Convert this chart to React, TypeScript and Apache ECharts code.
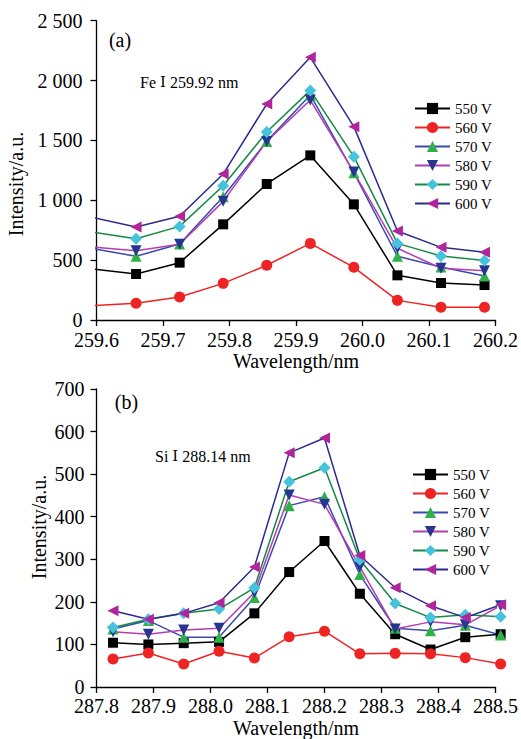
import React, { useEffect, useRef } from "react";
import * as echarts from "echarts";

// ---- Data: panel (a) Fe I 259.92 nm ----
const waveA = [259.594, 259.6595, 259.725, 259.7905, 259.856, 259.9215, 259.987, 260.0525, 260.118, 260.1835];
const a550 = [427, 384, 479, 799, 1136, 1375, 966, 373, 309, 292];
const a560 = [120, 139, 192, 306, 457, 640, 440, 164, 106, 106];
const a570 = [596, 532, 635, 1030, 1492, 1880, 1230, 532, 443, 367];
const a580 = [610, 579, 632, 991, 1492, 1837, 1236, 599, 432, 412];
const a590 = [734, 679, 782, 1122, 1570, 1918, 1364, 640, 535, 496];
const a600 = [856, 777, 866, 1219, 1804, 2194, 1615, 743, 607, 565];

// ---- Data: panel (b) Si I 288.14 nm ----
const waveB = [287.829, 287.891, 287.953, 288.015, 288.077, 288.138, 288.2, 288.262, 288.324, 288.386, 288.447, 288.509];
const b550 = [104, 100, 103, 106, 173, 270, 343, 219, 124, 88, 117, 124];
const b560 = [66, 80, 54, 84, 68, 118, 131, 78, 79, 78, 69, 54];
const b570 = [136, 156, 117, 117, 210, 426, 447, 264, 138, 132, 145, 122];
const b580 = [130, 124, 134, 138, 222, 451, 429, 282, 136, 153, 146, 191];
const b590 = [140, 159, 173, 183, 233, 482, 515, 299, 196, 163, 170, 165];
const b600 = [179, 159, 173, 198, 282, 550, 585, 309, 233, 191, 163, 193];

const seriesNames = ["550 V", "560 V", "570 V", "580 V", "590 V", "600 V"];
const xTicksA = { min: 259.6, max: 260.2, interval: 0.1 };
const xTicksB = { min: 287.8, max: 288.5, interval: 0.1 };
const yTicksA = { min: 0, max: 2500, interval: 500 };
const yTicksB = { min: 0, max: 700, interval: 100 };

const styles = [
  { line: "#000000", mark: "#000000", symbol: "rect", rotate: 0, size: 10 },
  { line: "#ee2424", mark: "#ee2424", symbol: "circle", rotate: 0, size: 11 },
  { line: "#3a4aae", mark: "#2fb04a", symbol: "triangle", rotate: 0, size: 11 },
  { line: "#b23eb2", mark: "#26358f", symbol: "triangle", rotate: 180, size: 11 },
  { line: "#138a46", mark: "#45c3dc", symbol: "diamond", rotate: 0, size: 12 },
  { line: "#2b2b8c", mark: "#b0259c", symbol: "triangle", rotate: 90, size: 11 },
];

const FONT = "'Liberation Serif', 'Times New Roman', serif";

function fmtY(v: number) {
  if (v >= 1000) {
    return `${Math.floor(v / 1000)} ${String(v % 1000).padStart(3, "0")}`;
  }
  return String(v);
}

const annoRich = {
  a: { fontFamily: FONT, fontSize: 16, color: "#000" },
  b: { fontFamily: "'DejaVu Serif', serif", fontSize: 15, color: "#000" },
};

export default function App() {
  const ref = useRef<HTMLDivElement>(null);
  useEffect(() => {
    if (!ref.current) return;
    const chart = echarts.init(ref.current, null, { renderer: "svg" });
    const setsA = [a550, a560, a570, a580, a590, a600];
    const setsB = [b550, b560, b570, b580, b590, b600];

    const mkSeries = (sets: number[][], xs: number[], idx: number, clip: boolean) =>
      sets.map((vals, i) => ({
        name: seriesNames[i],
        type: "line",
        xAxisIndex: idx,
        yAxisIndex: idx,
        clip,
        data: vals.map((v, j) => [xs[j], v]),
        symbol: styles[i].symbol,
        symbolRotate: styles[i].rotate,
        symbolSize: styles[i].size,
        showAllSymbol: true,
        lineStyle: { color: styles[i].line, width: 1.5 },
        itemStyle: { color: styles[i].mark, borderWidth: 0 },
        emphasis: { disabled: true },
      }));

    const axisCommon = {
      axisLine: { show: true, onZero: false, lineStyle: { color: "#000", width: 1.3 } },
      axisTick: { show: true, inside: false, length: 6, lineStyle: { color: "#000", width: 1.3 } },
      splitLine: { show: false },
    };

    const xAxis = (t: any, gi: number, margin: number) => ({
      type: "value",
      gridIndex: gi,
      min: t.min,
      max: t.max,
      interval: t.interval,
      name: "Wavelength/nm",
      nameLocation: "middle",
      nameGap: 31,
      nameTextStyle: { fontFamily: FONT, fontSize: 20, color: "#000" },
      axisLabel: {
        fontFamily: FONT,
        fontSize: 20,
        lineHeight: 14,
        color: "#000",
        margin,
        formatter: (v: number) => v.toFixed(1),
      },
      ...axisCommon,
    });

    const yAxis = (t: any, gi: number, margin: number) => ({
      type: "value",
      gridIndex: gi,
      min: t.min,
      max: t.max,
      interval: t.interval,
      axisLabel: {
        fontFamily: FONT,
        fontSize: 20,
        lineHeight: 14,
        color: "#000",
        margin,
        formatter: (v: number) => fmtY(v),
      },
      ...axisCommon,
    });

    const legendCommon = {
      orient: "vertical",
      itemWidth: 35,
      itemHeight: 14,
      itemGap: 4,
      textStyle: { fontFamily: FONT, fontSize: 15, color: "#000", lineHeight: 15 },
      data: seriesNames,
      selectedMode: false,
    };

    chart.setOption({
      animation: false,
      backgroundColor: "#ffffff",
      grid: [
        { left: 96.5, right: 23.7, top: 20.7, bottom: 419, containLabel: false },
        { left: 96.5, right: 23.7, top: 389, bottom: 50, containLabel: false },
      ],
      xAxis: [xAxis(xTicksA, 0, 13), xAxis(xTicksB, 1, 12)],
      yAxis: [yAxis(yTicksA, 0, 14), yAxis(yTicksB, 1, 12)],
      legend: [
        { ...legendCommon, left: 409, top: 96 },
        { ...legendCommon, left: 407, top: 462 },
      ],
      graphic: [
        { type: "text", x: 120, y: 40, style: { text: "(a)", font: `20px ${FONT}`, fill: "#000", align: "center", verticalAlign: "middle" } },
        { type: "text", x: 140, y: 82, style: { text: "{a|Fe }{b|Ⅰ}{a| 259.92 nm}", rich: annoRich, align: "left", verticalAlign: "middle" } },
        { type: "text", x: 126.5, y: 402, style: { text: "(b)", font: `20px ${FONT}`, fill: "#000", align: "center", verticalAlign: "middle" } },
        { type: "text", x: 155, y: 456, style: { text: "{a|Si }{b|Ⅰ}{a| 288.14 nm}", rich: annoRich, align: "left", verticalAlign: "middle" } },
        { type: "text", x: 16, y: 184, rotation: Math.PI / 2, style: { text: "Intensity/a.u.", font: `20px ${FONT}`, fill: "#000", align: "center", verticalAlign: "middle" } },
        { type: "text", x: 39, y: 527, rotation: Math.PI / 2, style: { text: "Intensity/a.u.", font: `20px ${FONT}`, fill: "#000", align: "center", verticalAlign: "middle" } },
      ],
      series: [...mkSeries(setsA, waveA, 0, true), ...mkSeries(setsB, waveB, 1, false)],
    });
    return () => chart.dispose();
  }, []);
  return (
    <div
      ref={ref}
      style={{ position: "absolute", left: 0, top: 0, width: 521, height: 739, background: "#fff" }}
    />
  );
}
